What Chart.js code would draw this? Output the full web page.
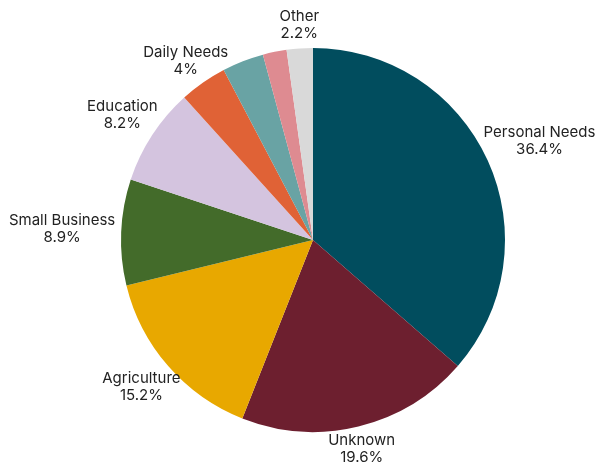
<!DOCTYPE html>
<html>
<head>
<meta charset="utf-8">
<script src="https://cdn.jsdelivr.net/npm/chart.js@4/dist/chart.umd.min.js"></script>
<style>
  html, body { margin: 0; padding: 0; background: #ffffff; }
  #wrap { width: 595px; height: 465px; }
</style>
</head>
<body>
<div id="wrap"><canvas id="chartPie" width="595" height="465"></canvas></div>
<script>
(function () {
  'use strict';

  const categories = ['Personal Needs', 'Unknown', 'Agriculture', 'Small Business', 'Education', 'Daily Needs', '', '', 'Other'];
  const shares = [36.4, 19.6, 15.2, 8.9, 8.2, 4, 3.5, 2, 2.2];
  const colors = ['#014d5e', '#6d1f2f', '#e8a800', '#436b2a', '#d4c4df', '#e06236', '#69a3a4', '#de8b91', '#d9d9d9'];

  const FONT = '15px Inter, "Noto Sans", sans-serif';
  const LINE_H = 17;
  const GAP = 6;

  // outside labels: name on first line, share on second
  const outsideLabels = {
    id: 'outsideLabels',
    afterDatasetsDraw(chart) {
      const ctx = chart.ctx;
      const arcs = chart.getDatasetMeta(0).data;
      ctx.save();
      ctx.font = FONT;
      ctx.fillStyle = '#222222';
      ctx.textAlign = 'center';
      ctx.textBaseline = 'middle';
      arcs.forEach((arc, i) => {
        if (!categories[i]) return;
        const lines = [categories[i], shares[i] + '%'];
        const w = Math.max(...lines.map(t => ctx.measureText(t).width));
        const h = LINE_H * lines.length;
        const mid = (arc.startAngle + arc.endAngle) / 2;
        const c = Math.cos(mid), s = Math.sin(mid);
        const ex = arc.x + c * arc.outerRadius;
        const ey = arc.y + s * arc.outerRadius;
        const cx = ex + c * GAP + c * Math.abs(c) * w / 2;
        const cy = ey + s * GAP + Math.max(-h / 2, Math.min(h / 2, s * 60));
        lines.forEach((t, k) => {
          ctx.fillText(t, cx, cy - h / 2 + LINE_H * (k + 0.5));
        });
      });
      ctx.restore();
    },
  };

  new Chart(document.getElementById('chartPie'), {
    type: 'pie',
    data: {
      labels: categories,
      datasets: [{
        data: shares,
        backgroundColor: colors,
        borderWidth: 0,
      }],
    },
    options: {
      responsive: false,
      animation: false,
      layout: { padding: { left: 121, right: 90, top: 48, bottom: 33 } },
      plugins: {
        legend: { display: false },
        tooltip: { enabled: false },
      },
    },
    plugins: [outsideLabels],
  });

})();
</script>
</body>
</html>
